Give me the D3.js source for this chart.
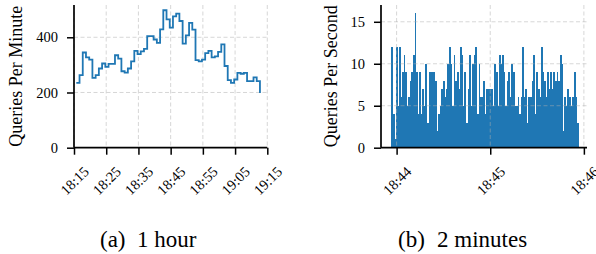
<!DOCTYPE html>
<html>
<head>
<meta charset="utf-8">
<script src="https://cdn.jsdelivr.net/npm/d3@7"></script>
<style>
  body { margin: 0; background: #fff; }
  svg { display: block; font-family: "Liberation Serif", "Times New Roman", serif; }
</style>
</head>
<body>
<div id="chart"></div>
<script>
// (a) queries per minute, one value per minute starting at minuteStart
const minuteStart = '18:15:43';
const perMinute = [235, 263, 345, 327, 319, 253, 263, 287, 305, 293,
                   304, 304, 335, 323, 277, 272, 287, 313, 351, 339,
                   349, 358, 404, 404, 392, 380, 429, 498, 465, 435,
                   476, 486, 459, 377, 407, 452, 428, 317, 313, 319,
                   343, 351, 327, 331, 347, 374, 296, 245, 235, 247,
                   271, 268, 271, 241, 241, 255, 241, 198];

// (b) queries per second, one value per second starting at secondStart
const secondStart = '18:43:57';
const perSecond = [12, 4, 1, 12, 5, 12, 6, 9, 11, 9, 5, 6, 8, 9, 11, 16,
                   9, 4, 9, 4, 7, 5, 10, 3, 9, 9, 9, 9, 8, 2,
                   4, 5, 7, 8, 6, 7, 10, 12,
                   10, 5, 11, 8, 9, 7, 12, 11,
                   5, 9, 3, 7, 11, 5, 10, 11, 12, 4,
                   10, 6, 6, 8, 4, 7, 7, 7, 7, 5,
                   10, 9, 5, 11, 10, 11, 9, 5, 8, 9,
                   6, 10, 9, 5, 5, 6, 4, 6, 12, 6,
                   7, 3, 6, 6, 8, 11, 4, 9, 7, 6,
                   12, 9, 8, 6, 9, 7, 9, 7, 9, 8,
                   9, 8, 11, 10, 2, 6, 5, 7, 6, 5, 6, 9, 6, 3];

const minuteTicks = ['18:15', '18:25', '18:35', '18:45', '18:55', '19:05', '19:15'];
const secondTicks = ['18:44', '18:45', '18:46'];
const minuteYTicks = [0, 200, 400];
const secondYTicks = [0, 5, 10, 15];
const captions = [['(a)', '1 hour'], ['(b)', '2 minutes']];

const w = 596;
const h = 254;
const blue = '#1f77b4';
const tickFont = 14.5;

const parse = d3.timeParse('%H:%M:%S');
const parseHM = d3.timeParse('%H:%M');
const fmt = d3.timeFormat('%H:%M');

const svg = d3.select('#chart')
  .append('svg')
  .attr('width', w)
  .attr('height', h);

const plotTop = 5;
const plotBottom = 147.7;

// scales
const xA = d3.scaleTime()
  .domain([parseHM('18:15'), parseHM('19:15')])
  .range([74, 267.3]);
const yA = d3.scaleLinear().domain([0, 517]).range([plotBottom, plotTop]);

const xB = d3.scaleTime()
  .domain([d3.timeSecond.offset(parseHM('18:44'), -9.5), d3.timeSecond.offset(parseHM('18:46'), 2.5)])
  .range([381, 587]);
const yB = d3.scaleLinear().domain([0, 17]).range([plotBottom, plotTop]);

const minuteData = perMinute.map((v, i) => [d3.timeMinute.offset(parse(minuteStart), i), v]);
const secondData = perSecond.map((v, i) => [d3.timeSecond.offset(parse(secondStart), i), v]);

function grid(g, x, y, xt, yt) {
  const [x0, x1] = x.range();
  g.selectAll('line.gx')
    .data(xt)
    .enter()
    .append('line')
    .attr('x1', d => x(d)).attr('x2', d => x(d))
    .attr('y1', plotTop).attr('y2', plotBottom);
  g.selectAll('line.gy')
    .data(yt.filter(d => d > 0))
    .enter()
    .append('line')
    .attr('x1', x0).attr('x2', x1)
    .attr('y1', d => y(d)).attr('y2', d => y(d));
  g.selectAll('line')
    .attr('stroke', '#b0b0b0')
    .attr('stroke-opacity', 0.5)
    .attr('stroke-width', 1)
    .attr('stroke-dasharray', '4,2.5');
}

function axes(x, y, xt, yt, label, labelX) {
  const [x0, x1] = x.range();
  const gx = svg.append('g')
    .attr('transform', 'translate(0,' + plotBottom + ')')
    .call(d3.axisBottom(x).tickValues(xt).tickFormat(fmt).tickSize(7).tickSizeOuter(0));
  gx.select('.domain').attr('d', 'M' + x0 + ',0H' + x1);
  gx.selectAll('text')
    .attr('y', 0)
    .attr('dy', '0.35em')
    .attr('text-anchor', 'middle')
    .attr('transform', 'translate(0,33) rotate(-45)');

  const gy = svg.append('g')
    .attr('transform', 'translate(' + x0 + ',0)')
    .call(d3.axisLeft(y).tickValues(yt).tickSize(7).tickPadding(9).tickSizeOuter(0));
  gy.select('.domain').attr('d', 'M0,' + plotTop + 'V' + plotBottom);

  [gx, gy].forEach(g => {
    g.attr('font-family', null).attr('font-size', tickFont);
    g.selectAll('text').attr('fill', '#000');
    g.selectAll('line').attr('stroke', '#000').attr('stroke-width', 1.5);
    g.select('.domain').attr('stroke', '#000').attr('stroke-width', 1.7);
  });

  svg.append('text')
    .attr('transform', 'translate(' + labelX + ',' + ((plotTop + plotBottom) / 2) + ') rotate(-90)')
    .attr('text-anchor', 'middle')
    .attr('font-size', 18)
    .text(label);
}

// (b) bars first, grid above the bars
svg.append('g')
  .attr('shape-rendering', 'crispEdges')
  .selectAll('rect')
  .data(secondData)
  .enter()
  .append('rect')
  .attr('x', d => xB(d3.timeMillisecond.offset(d[0], -500)))
  .attr('width', d => xB(d3.timeMillisecond.offset(d[0], 500)) - xB(d3.timeMillisecond.offset(d[0], -500)) + 0.3)
  .attr('y', d => yB(d[1]))
  .attr('height', d => yB(0) - yB(d[1]))
  .style('fill', blue);

grid(svg.append('g'), xA, yA, minuteTicks.map(parseHM), minuteYTicks);
grid(svg.append('g'), xB, yB, secondTicks.map(parseHM), secondYTicks);

// (a) step line above the grid
svg.append('path')
  .datum(minuteData)
  .attr('fill', 'none')
  .attr('stroke', blue)
  .attr('stroke-width', 1.8)
  .attr('d', d3.line().curve(d3.curveStepAfter).x(d => xA(d[0])).y(d => yA(d[1])));

axes(xA, yA, minuteTicks.map(parseHM), minuteYTicks, 'Queries Per Minute', 22);
axes(xB, yB, secondTicks.map(parseHM), secondYTicks, 'Queries Per Second', 337);

// captions
const capX = [[100, 137], [398, 437]];
captions.forEach((c, i) => {
  svg.append('text').attr('x', capX[i][0]).attr('y', 247).attr('font-size', 23).text(c[0]);
  svg.append('text').attr('x', capX[i][1]).attr('y', 247).attr('font-size', 23).text(c[1]);
});
</script>
</body>
</html>
